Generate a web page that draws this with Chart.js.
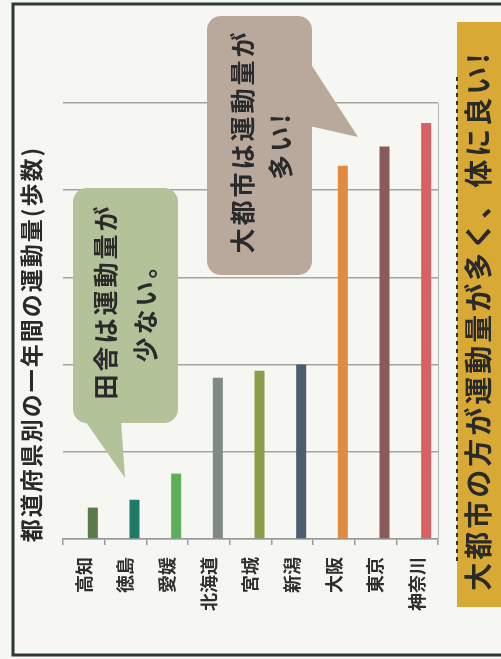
<!DOCTYPE html>
<html>
<head>
<meta charset="utf-8">
<script src="https://cdn.jsdelivr.net/npm/chart.js@4.4.1/dist/chart.umd.min.js"></script>
<style>
  body { margin: 0; background: #f6f6f3; }
  canvas { display: block; }
</style>
</head>
<body>
<canvas id="stepsChart" width="501" height="659"></canvas>
<script>
// 都道府県別の一年間の運動量 (目盛り5つ分で読み取り)
const prefectures = ['高知', '徳島', '愛媛', '北海道', '宮城', '新潟', '大阪', '東京', '神奈川'];
const stepValues = [0.36, 0.45, 0.75, 1.85, 1.93, 2.0, 4.28, 4.50, 4.77];
const barColors = ['#5a7a4a', '#1f7a66', '#5cae5a', '#808a82', '#8a9e4a', '#4b5e70', '#e08a42', '#8a5a5a', '#d86262'];
const yTicks = [0, 1, 2, 3, 4, 5];

const titleText = '都道府県別の一年間の運動量(歩数)';
const ruralNote = ['田舎は運動量が', '少ない。'];
const cityNote = ['大都市は運動量が', '多い!'];
const bannerText = '大都市の方が運動量が多く、体に良い!';

const FONT = '"Noto Sans CJK JP", "Noto Sans", sans-serif';
const INK = '#2a2a2a';

// text rotated -90deg, spread char by char
function drawVertical(ctx, text, cx, cy, size, spacing) {
    ctx.save();
    ctx.translate(cx, cy);
    ctx.rotate(-Math.PI / 2);
    ctx.font = `bold ${size}px ${FONT}`;
    ctx.fillStyle = INK;
    ctx.textBaseline = 'middle';
    ctx.textAlign = 'left';
    const chars = Array.from(text);
    const widths = chars.map(c => ctx.measureText(c).width);
    const total = widths.reduce((a, b) => a + b, 0) + spacing * (chars.length - 1);
    let x = -total / 2;
    chars.forEach((c, i) => {
        ctx.fillText(c, x, 0);
        x += widths[i] + spacing;
    });
    ctx.restore();
}

function roundBox(ctx, x, y, w, h, r) {
    ctx.beginPath();
    ctx.moveTo(x + r, y);
    ctx.arcTo(x + w, y, x + w, y + h, r);
    ctx.arcTo(x + w, y + h, x, y + h, r);
    ctx.arcTo(x, y + h, x, y, r);
    ctx.arcTo(x, y, x + w, y, r);
    ctx.closePath();
}

const decorations = {
    id: 'decorations',
    beforeDraw(chart) {
        const ctx = chart.ctx;
        ctx.save();
        ctx.fillStyle = '#f6f6f3';
        ctx.fillRect(0, 0, chart.width, chart.height);
        ctx.restore();
    },
    afterDraw(chart) {
        const ctx = chart.ctx;
        ctx.save();

        // green callout
        ctx.fillStyle = '#b4c29a';
        roundBox(ctx, 73, 188, 105, 235, 14);
        ctx.fill();
        ctx.beginPath();
        ctx.moveTo(76, 408);
        ctx.lineTo(121, 420);
        ctx.lineTo(125, 478);
        ctx.closePath();
        ctx.fill();
        drawVertical(ctx, ruralNote[0], 105, 303, 25, 3);
        drawVertical(ctx, ruralNote[1], 145, 308, 25, 3);

        // brown callout
        ctx.fillStyle = '#b9a99d';
        roundBox(ctx, 207, 16, 105, 259, 14);
        ctx.fill();
        ctx.beginPath();
        ctx.moveTo(305, 55);
        ctx.lineTo(358, 137);
        ctx.lineTo(305, 125);
        ctx.closePath();
        ctx.fill();
        drawVertical(ctx, cityNote[0], 242, 143, 25, 3);
        drawVertical(ctx, cityNote[1], 280, 147, 25, 3);

        // yellow banner
        ctx.fillStyle = '#d8a935';
        ctx.fillRect(457, 22, 60, 585);
        ctx.strokeStyle = '#333';
        ctx.lineWidth = 2;
        ctx.setLineDash([4, 4]);
        ctx.beginPath();
        ctx.moveTo(457, 77);
        ctx.lineTo(457, 565);
        ctx.stroke();
        ctx.setLineDash([]);
        drawVertical(ctx, bannerText, 478, 322, 28, 3);

        // title
        drawVertical(ctx, titleText, 31, 345, 23, 2);

        // outer frame
        ctx.strokeStyle = '#2d3833';
        ctx.lineWidth = 3;
        ctx.strokeRect(13, 4, 520, 651);
        ctx.restore();
    }
};

function renderChart() {
    const ctx = document.getElementById('stepsChart').getContext('2d');
    new Chart(ctx, {
        type: 'bar',
        data: {
            labels: prefectures,
            datasets: [{
                label: '',
                data: []
            }, {
                label: '運動量(歩数)',
                data: stepValues,
                backgroundColor: barColors,
                borderWidth: 0
            }]
        },
        options: {
            responsive: false,
            animation: false,
            categoryPercentage: 0.864,
            barPercentage: 0.556,
            layout: {
                padding: { left: 63, right: 63, top: 103, bottom: 0 }
            },
            plugins: {
                legend: { display: false },
                tooltip: { enabled: false },
                title: { display: false }
            },
            scales: {
                x: {
                    offset: true,
                    grid: {
                        display: true,
                        drawOnChartArea: false,
                        drawTicks: true,
                        tickLength: 6,
                        color: '#999',
                        lineWidth: 1.5
                    },
                    border: { color: '#999', width: 1.5 },
                    ticks: {
                        autoSkip: false,
                        minRotation: 90,
                        maxRotation: 90,
                        padding: 12,
                        color: '#2e2e2e',
                        font: { family: FONT, size: 18, weight: 'bold' }
                    },
                    afterFit(scale) { scale.height = 120; }
                },
                y: {
                    position: 'right',
                    min: yTicks[0],
                    max: yTicks[yTicks.length - 1],
                    afterBuildTicks(scale) {
                        scale.ticks = yTicks.map(v => ({ value: v }));
                    },
                    grid: {
                        color: '#a3a3a0',
                        lineWidth: 1.5,
                        drawTicks: false
                    },
                    border: { display: true, color: '#b5b5b2', width: 1 },
                    ticks: { display: false },
                    afterFit(scale) { scale.width = 0; }
                }
            }
        },
        plugins: [decorations]
    });
}

window.onload = renderChart;
</script>
</body>
</html>
